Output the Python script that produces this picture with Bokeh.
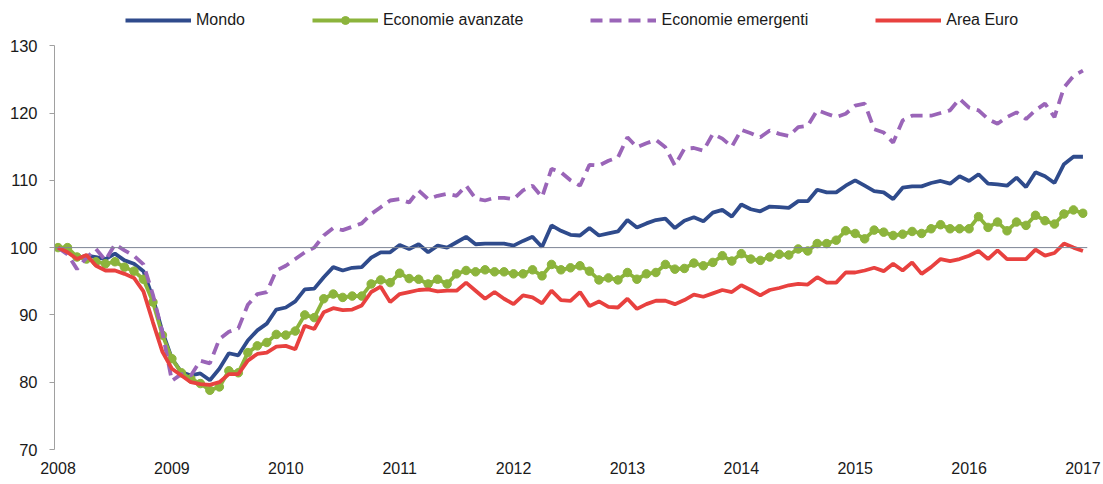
from bokeh.plotting import figure
from bokeh.models import Span, Legend, LegendItem, FixedTicker, Range1d
from bokeh.embed import file_html
from bokeh.resources import INLINE

# ---- data (monthly index, Jan 2008 = 100) ----
start_year = 2008
months = list(range(109))  # Jan 2008 .. Jan 2017

mondo = [100.0, 99.5, 98.4, 98.8, 98.6, 98.3, 99.1, 98.1, 97.6, 96.5,
         92.5, 87.5, 83.5, 81.5, 81.0, 81.3, 80.3, 82.0, 84.3, 84.0,
         86.2, 87.7, 88.7, 90.8, 91.1, 92.0, 93.8, 93.9, 95.6, 97.1,
         96.6, 97.0, 97.1, 98.5, 99.3, 99.3, 100.4, 99.8, 100.5, 99.3,
         100.3, 100.0, 100.8, 101.6, 100.5, 100.6, 100.6, 100.6, 100.3, 101.0,
         101.6, 100.1, 103.3, 102.5, 101.9, 101.8, 102.9, 101.8, 102.1, 102.4,
         104.1, 103.0, 103.6, 104.1, 104.3, 102.9, 104.0, 104.5, 103.9, 105.2,
         105.6, 104.6, 106.4, 105.7, 105.4, 106.1, 106.0, 105.9, 106.9, 106.9,
         108.6, 108.2, 108.2, 109.2, 110.0, 109.2, 108.4, 108.2, 107.2, 108.9,
         109.1, 109.1, 109.6, 109.9, 109.5, 110.6, 109.9, 110.9, 109.5, 109.4,
         109.2, 110.4, 109.0, 111.2, 110.6, 109.6, 112.4, 113.5, 113.5]

avanzate = [100.0, 100.0, 98.6, 98.3, 97.9, 97.6, 97.9, 97.1, 96.5, 95.3,
            91.9, 87.0, 83.5, 81.4, 80.5, 79.8, 78.8, 79.3, 81.7, 81.4,
            84.4, 85.4, 85.9, 87.1, 87.0, 87.6, 90.0, 89.6, 92.4, 93.1,
            92.6, 92.8, 92.8, 94.6, 95.2, 94.8, 96.2, 95.4, 95.3, 94.6,
            95.3, 94.6, 96.1, 96.6, 96.4, 96.7, 96.4, 96.4, 96.1, 96.1,
            96.7, 95.8, 97.5, 96.7, 97.0, 97.3, 96.5, 95.2, 95.5, 95.2,
            96.3, 95.3, 96.1, 96.3, 97.5, 96.8, 96.9, 97.7, 97.3, 97.8,
            98.8, 98.0, 99.1, 98.3, 98.1, 98.6, 99.0, 98.9, 99.8, 99.5,
            100.6, 100.6, 101.1, 102.5, 102.1, 101.3, 102.6, 102.3, 101.8, 102.0,
            102.4, 102.1, 102.8, 103.4, 102.8, 102.8, 102.8, 104.6, 103.0, 103.8,
            102.5, 103.8, 103.3, 104.8, 104.0, 103.5, 105.0, 105.6, 105.1]

emergenti = [100.0, 99.0, 96.8, 98.5, 99.8, 98.1, 100.5, 99.6, 98.8, 97.5,
             93.0, 87.4, 80.2, 81.2, 81.0, 83.2, 82.8, 86.4, 87.5, 88.0,
             91.5, 93.1, 93.4, 96.6, 97.3, 98.3, 99.3, 100.0, 101.8, 102.9,
             102.6, 103.1, 103.6, 105.0, 106.0, 107.0, 107.2, 106.7, 108.5, 107.2,
             107.7, 108.0, 107.7, 109.2, 107.3, 107.0, 107.4, 107.4, 107.2, 108.5,
             109.2, 107.5, 111.7, 111.2, 110.0, 109.2, 112.3, 112.2, 112.9, 113.4,
             116.4, 114.9, 115.5, 116.0, 114.9, 112.2, 114.7, 114.8, 114.4, 116.9,
             116.2, 115.0, 117.5, 117.0, 116.4, 117.4, 116.9, 116.6, 117.9, 118.1,
             120.4, 119.9, 119.4, 119.9, 121.1, 121.4, 117.6, 117.1, 115.6, 118.9,
             119.6, 119.6, 119.6, 120.0, 120.4, 122.1, 120.8, 120.4, 119.1, 118.4,
             119.4, 120.1, 119.1, 120.4, 121.4, 119.4, 123.8, 125.5, 126.3]

euro = [100.0, 99.3, 98.3, 98.9, 97.3, 96.6, 96.6, 96.1, 95.5, 93.5,
        88.9, 84.5, 82.0, 81.0, 80.0, 79.7, 79.6, 80.0, 81.2, 81.2,
        83.2, 84.2, 84.4, 85.3, 85.4, 84.9, 88.4, 87.9, 90.4, 91.0,
        90.7, 90.8, 91.4, 93.4, 94.2, 91.9, 93.1, 93.4, 93.7, 93.8,
        93.5, 93.6, 93.6, 94.8, 93.6, 92.4, 93.4, 92.4, 91.6, 92.9,
        92.6, 91.7, 93.6, 92.2, 92.1, 93.4, 91.3, 92.0, 91.2, 91.1,
        92.4, 90.9, 91.6, 92.1, 92.1, 91.6, 92.2, 93.0, 92.7, 93.2,
        93.7, 93.4, 94.4, 93.7, 92.9, 93.7, 94.0, 94.4, 94.6, 94.5,
        95.6, 94.8, 94.8, 96.3, 96.3, 96.6, 97.0, 96.5, 97.6, 96.6,
        97.8, 96.1, 97.1, 98.3, 98.0, 98.3, 98.8, 99.5, 98.3, 99.6,
        98.3, 98.3, 98.3, 99.7, 98.8, 99.2, 100.6, 100.0, 99.5]

series_names = ["Mondo", "Economie avanzate", "Economie emergenti", "Area Euro"]
year_ticks = [2008, 2009, 2010, 2011, 2012, 2013, 2014, 2015, 2016, 2017]
year_labels = ["2008", "2009", "2010", "2011", "2012", "2013", "2014", "2015", "2016", "2017"]
y_ticks = [70, 80, 90, 100, 110, 120, 130]
baseline = 100

x = [start_year + m / 12 for m in months]

FONT = "Liberation Sans"
TXT = "#1a1a1a"

p = figure(width=1103, height=484, output_backend="svg", toolbar_location=None,
           x_range=Range1d(2007.969, 2017.04), y_range=Range1d(70, 135.53),
           min_border_left=54, min_border_right=16, min_border_top=8,
           min_border_bottom=35)
p.outline_line_color = None
p.xgrid.visible = False
p.ygrid.visible = False
p.background_fill_color = "white"

# y axis
p.yaxis.ticker = FixedTicker(ticks=y_ticks)
p.yaxis.bounds = (70, 130)
p.yaxis.axis_line_color = "#a0a0a0"
p.yaxis.major_tick_line_color = "#a0a0a0"
p.yaxis.minor_tick_line_color = None
p.yaxis.major_tick_in = 0
p.yaxis.major_tick_out = 5
p.yaxis.major_label_standoff = 12
p.yaxis.major_label_text_font = FONT
p.yaxis.major_label_text_font_size = "16.5px"
p.yaxis.major_label_text_color = TXT

# x axis
p.xaxis.ticker = FixedTicker(ticks=year_ticks)
p.xaxis.major_label_overrides = {t: l for t, l in zip(year_ticks, year_labels)}
p.xaxis.axis_line_color = None
p.xaxis.major_tick_line_color = None
p.xaxis.minor_tick_line_color = None
p.xaxis.major_tick_out = 0
p.xaxis.major_tick_in = 0
p.xaxis.major_label_standoff = 12
p.xaxis.major_label_text_font = FONT
p.xaxis.major_label_text_font_size = "16px"
p.xaxis.major_label_text_color = TXT

p.add_layout(Span(location=baseline, dimension="width", line_color="#7d8596", line_width=1))

r_mondo = p.line(x, mondo, line_color="#2f4b8c", line_width=3.8)
r_av = p.line(x, avanzate, line_color="#8cb43c", line_width=3.8)
r_av_pts = p.scatter(x, avanzate, size=8.5, fill_color="#8cb43c", line_color="#8cb43c")
r_em = p.line(x, emergenti, line_color="#9a65b8", line_width=3.8, line_dash="12 7")
r_eu = p.line(x, euro, line_color="#e8413f", line_width=3.8)

legend = Legend(items=[
    LegendItem(label=series_names[0], renderers=[r_mondo]),
    LegendItem(label=series_names[1], renderers=[r_av, r_av_pts]),
    LegendItem(label=series_names[2], renderers=[r_em]),
    LegendItem(label=series_names[3], renderers=[r_eu]),
], location=(71, 419), orientation="horizontal", glyph_width=66, glyph_height=20,
   label_height=20, label_standoff=5, spacing=67, padding=0, margin=0,
   border_line_color=None, background_fill_alpha=0,
   label_text_font=FONT, label_text_font_size="16px", label_text_color=TXT)
p.add_layout(legend)

open("out.html", "w").write(file_html(p, INLINE))
